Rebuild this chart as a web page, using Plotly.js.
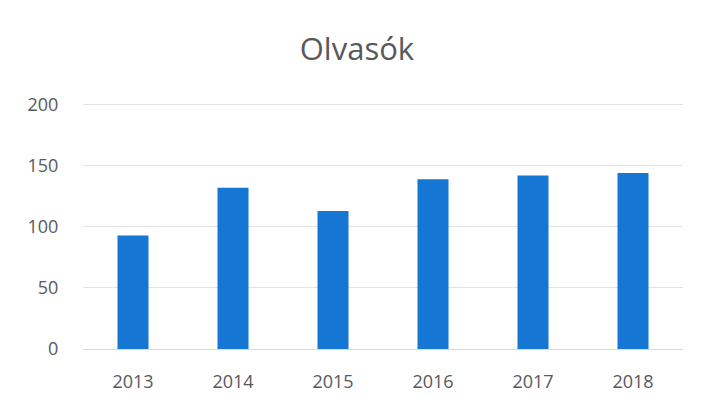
<!DOCTYPE html>
<html>
<head>
<meta charset="utf-8">
<script src="https://cdn.plot.ly/plotly-3.0.1.min.js"></script>
<style>html,body{margin:0;padding:0;background:#fff;}#chart{width:704px;height:409px;}</style>
</head>
<body>
<div id="chart"></div>
<script>
const years = ['2013', '2014', '2015', '2016', '2017', '2018'];
const readers = [93, 132, 113, 139, 142, 144];
const yTicks = [0, 50, 100, 150, 200];

const textColor = '#595959';
const fontFamily = 'Open Sans, Noto Sans, sans-serif';

Plotly.newPlot('chart', [{
  type: 'bar',
  x: years,
  y: readers,
  marker: {color: '#1576d4'},
  hoverinfo: 'x+y'
}], {
  width: 704,
  height: 409,
  margin: {l: 83, r: 21, t: 101, b: 59.5},
  paper_bgcolor: '#ffffff',
  plot_bgcolor: '#ffffff',
  bargap: 0.69,
  showlegend: false,
  title: {
    text: 'Olvasók',
    font: {family: fontFamily, size: 31, color: textColor},
    x: 0.507, xref: 'container', xanchor: 'center',
    y: 0.88, yref: 'container', yanchor: 'middle'
  },
  xaxis: {
    type: 'category',
    tickfont: {family: fontFamily, size: 18, color: textColor},
    showgrid: false,
    showline: true,
    linecolor: '#d9d9d9',
    linewidth: 1,
    ticks: 'outside',
    ticklen: 16,
    tickcolor: 'rgba(0,0,0,0)',
    zeroline: false
  },
  yaxis: {
    range: [0, 203],
    tickvals: yTicks,
    ticktext: yTicks.map(String),
    tickfont: {family: fontFamily, size: 18, color: textColor},
    showgrid: true,
    gridcolor: '#e3e3e3',
    gridwidth: 1,
    zeroline: false,
    showline: false,
    ticks: 'outside',
    ticklen: 20,
    tickcolor: 'rgba(0,0,0,0)'
  }
}, {displayModeBar: false, staticPlot: true});
</script>
</body>
</html>
